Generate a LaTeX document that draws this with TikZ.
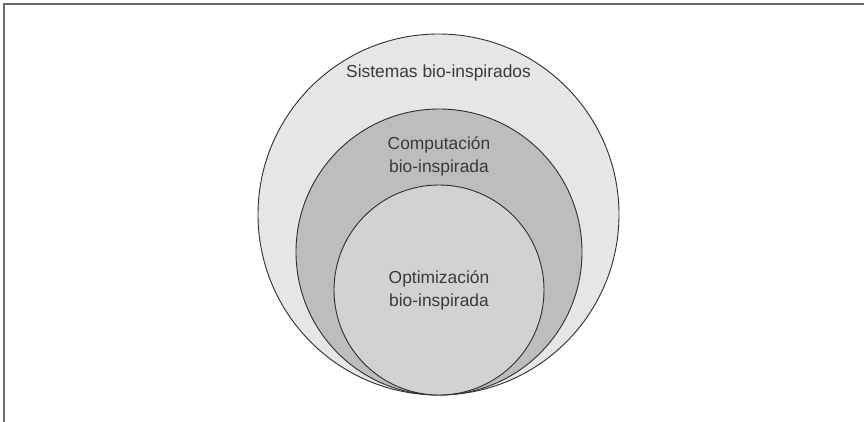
\documentclass[tikz,border=0pt]{standalone}
\usepackage{fontspec}
\setmainfont{Liberation Sans}
\definecolor{framegray}{HTML}{6A6A6A}
\definecolor{linegray}{HTML}{2E2E2E}
\definecolor{outerfill}{HTML}{E6E6E8}
\definecolor{midfill}{HTML}{BDBDC0}
\definecolor{innerfill}{HTML}{D2D2D4}
\definecolor{textgray}{HTML}{3A3A3A}
\tikzset{
  setcircle/.style={circle, draw=linegray, line width=0.9pt, inner sep=0pt},
  lbl/.style={anchor=base, text=textgray, font=\fontsize{17.4}{23.4}\selectfont, inner sep=0pt}
}
\begin{document}
\begin{tikzpicture}[x=1pt,y=-1pt]
\useasboundingbox (0,0) rectangle (864,422);
\draw[framegray, line width=1.5pt] (4,422) -- (4,4) -- (864,4);
\node[setcircle, fill=outerfill, minimum size=361pt] (outer) at (438.5,214.5) {};
\node[setcircle, fill=midfill, minimum size=286pt] (middle) at (439,252) {};
\node[setcircle, fill=innerfill, minimum size=210pt] (inner) at (439,290) {};
\node[lbl] (t1) at (438.5,77.3) {Sistemas bio-inspirados};
\node[lbl] (t2a) at (439,149.3) {Computación};
\node[lbl] (t2b) at (439,172.7) {bio-inspirada};
\node[lbl] (t3a) at (439,283) {Optimización};
\node[lbl] (t3b) at (439,306.4) {bio-inspirada};
\end{tikzpicture}
\end{document}
